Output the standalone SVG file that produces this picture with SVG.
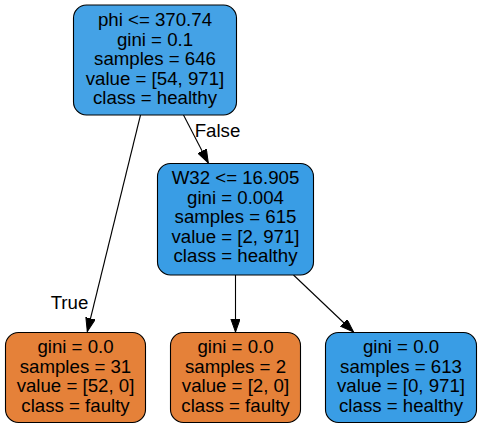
<svg xmlns="http://www.w3.org/2000/svg" width="481" height="429" viewBox="0 0 481 429">
<defs>
<style>
.node rect{stroke:#000;stroke-width:1.1}
.node text,.lbl{font-family:"Liberation Sans",Arial,sans-serif;font-size:18.67px;text-anchor:middle;fill:#000}
.blue{fill:#399de5}
.blue0{fill:#44a2e6}
.orange{fill:#e58139}
.edge{stroke:#000;stroke-width:1.1;fill:none;marker-end:url(#arr)}
</style>
<marker id="arr" markerUnits="userSpaceOnUse" markerWidth="14" markerHeight="10" refX="13.5" refY="4.8" orient="auto">
<path d="M0,0 L13.5,4.8 L0,9.6 Z" fill="#000" stroke="#000" stroke-width="1"/>
</marker>
</defs>
<rect width="481" height="429" fill="#fff"/>
<g id="edges">
<line class="edge" x1="140.5" y1="115" x2="87.3" y2="331.5"/>
<line class="edge" x1="183.5" y1="115" x2="208.3" y2="163"/>
<line class="edge" x1="235.5" y1="275" x2="235.5" y2="332"/>
<line class="edge" x1="293.5" y1="275" x2="353.5" y2="332"/>
<text class="lbl" x="69.5" y="309">True</text>
<text class="lbl" x="217.5" y="137">False</text>
</g>
<g id="node0" class="node">
<rect class="blue0" x="73.5" y="5" width="163" height="110" rx="13"/>
<text x="155" y="26">phi &lt;= 370.74</text>
<text x="155" y="45.5">gini = 0.1</text>
<text x="155" y="65">samples = 646</text>
<text x="155" y="84.5">value = [54, 971]</text>
<text x="155" y="104">class = healthy</text>
</g>
<g id="node1" class="node">
<rect class="orange" x="5.5" y="332.5" width="140" height="90" rx="13"/>
<text x="75.5" y="353">gini = 0.0</text>
<text x="75.5" y="372.5">samples = 31</text>
<text x="75.5" y="392">value = [52, 0]</text>
<text x="75.5" y="411.5">class = faulty</text>
</g>
<g id="node2" class="node">
<rect class="blue" x="157.5" y="163.5" width="156" height="111.5" rx="13"/>
<text x="235.5" y="184">W32 &lt;= 16.905</text>
<text x="235.5" y="203.5">gini = 0.004</text>
<text x="235.5" y="223">samples = 615</text>
<text x="235.5" y="242.5">value = [2, 971]</text>
<text x="235.5" y="262">class = healthy</text>
</g>
<g id="node3" class="node">
<rect class="orange" x="170.5" y="332.5" width="130" height="90" rx="13"/>
<text x="235.5" y="353">gini = 0.0</text>
<text x="235.5" y="372.5">samples = 2</text>
<text x="235.5" y="392">value = [2, 0]</text>
<text x="235.5" y="411.5">class = faulty</text>
</g>
<g id="node4" class="node">
<rect class="blue" x="325.5" y="332.5" width="151" height="90" rx="13"/>
<text x="401" y="353">gini = 0.0</text>
<text x="401" y="372.5">samples = 613</text>
<text x="401" y="392">value = [0, 971]</text>
<text x="401" y="411.5">class = healthy</text>
</g>
</svg>
